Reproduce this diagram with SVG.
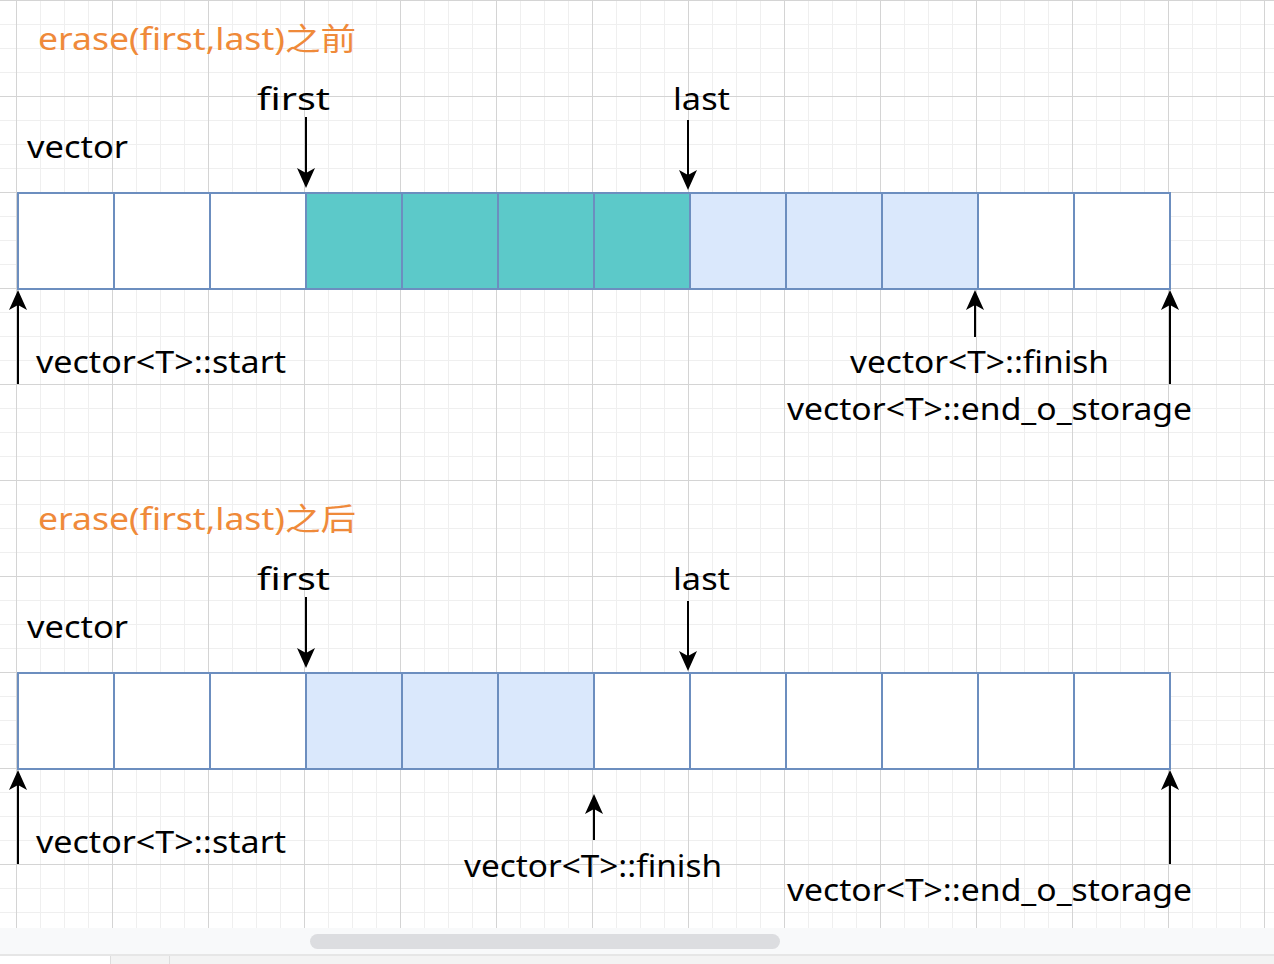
<svg xmlns="http://www.w3.org/2000/svg" width="1274" height="964" viewBox="0 0 1274 964">
<style>
.cell{stroke:#6c8ebf;stroke-width:2}
.w{fill:#ffffff}.t{fill:#5cc9c9}.b{fill:#dae8fc}
.lbl{font-family:"Noto Sans","DejaVu Sans",sans-serif;font-size:31px;fill:#000}
.ttl{font-family:"Noto Sans","Noto Sans CJK SC",sans-serif;font-size:31px;fill:#ef8a3a}
.arr{stroke:#000;stroke-width:2;fill:none;marker-end:url(#ah)}
</style>
<defs>
<pattern id="grid" x="16" y="0" width="96" height="96" patternUnits="userSpaceOnUse">
<path d="M24.5,0V96M48.5,0V96M72.5,0V96M0,24.5H96M0,48.5H96M0,72.5H96" stroke="#efefef" stroke-width="1" fill="none"/>
<path d="M0.5,0V96M0,0.5H96" stroke="#d4d4d4" stroke-width="1" fill="none"/>
</pattern>
<marker id="ah" viewBox="0 0 20 18" refX="15" refY="9" markerWidth="20" markerHeight="18" markerUnits="userSpaceOnUse" orient="auto">
<path d="M0,0 L20,9 L0,18 L5,9 Z" fill="#000"/>
</marker>
</defs>
<rect x="0" y="0" width="1274" height="928" fill="#ffffff"/>
<rect x="0" y="0" width="1274" height="928" fill="url(#grid)"/>
<g id="chrome">
<rect x="0" y="928" width="1274" height="26" fill="#f8f9fa"/>
<rect x="310" y="934" width="470" height="15" rx="7.5" fill="#dcdde0"/>
<rect x="0" y="954" width="1274" height="2" fill="#e6e6e6"/>
<rect x="0" y="956" width="1274" height="8" fill="#f3f3f3"/>
<rect x="0" y="956" width="110" height="8" fill="#ffffff"/>
<path d="M110.5,956V964M169.5,956V964" stroke="#dddddd"/>
</g>
<g id="top-section">
<text id="title-before" class="ttl" x="38" y="50" textLength="318" lengthAdjust="spacingAndGlyphs">erase(first,last)之前</text>
<text id="first-top" class="lbl" x="257" y="110" textLength="73" lengthAdjust="spacingAndGlyphs">first</text>
<text id="last-top" class="lbl" x="673" y="110" textLength="57" lengthAdjust="spacingAndGlyphs">last</text>
<text id="vector-top" class="lbl" x="27" y="158" textLength="101" lengthAdjust="spacingAndGlyphs">vector</text>
<g id="cells-top">
<rect class="cell w" x="18" y="193" width="96" height="96"/>
<rect class="cell w" x="114" y="193" width="96" height="96"/>
<rect class="cell w" x="210" y="193" width="96" height="96"/>
<rect class="cell t" x="306" y="193" width="96" height="96"/>
<rect class="cell t" x="402" y="193" width="96" height="96"/>
<rect class="cell t" x="498" y="193" width="96" height="96"/>
<rect class="cell t" x="594" y="193" width="96" height="96"/>
<rect class="cell b" x="690" y="193" width="96" height="96"/>
<rect class="cell b" x="786" y="193" width="96" height="96"/>
<rect class="cell b" x="882" y="193" width="96" height="96"/>
<rect class="cell w" x="978" y="193" width="96" height="96"/>
<rect class="cell w" x="1074" y="193" width="96" height="96"/>
</g>
<text id="start-top" class="lbl" x="36" y="373" textLength="250" lengthAdjust="spacingAndGlyphs">vector&lt;T&gt;::start</text>
<text id="finish-top" class="lbl" x="850" y="373" textLength="259" lengthAdjust="spacingAndGlyphs">vector&lt;T&gt;::finish</text>
<text id="eos-top" class="lbl" x="787" y="420" textLength="405" lengthAdjust="spacingAndGlyphs">vector&lt;T&gt;::end_o_storage</text>
</g>
<g id="bottom-section">
<text id="title-after" class="ttl" x="38" y="530" textLength="318" lengthAdjust="spacingAndGlyphs">erase(first,last)之后</text>
<text id="first-bottom" class="lbl" x="257" y="590" textLength="73" lengthAdjust="spacingAndGlyphs">first</text>
<text id="last-bottom" class="lbl" x="673" y="590" textLength="57" lengthAdjust="spacingAndGlyphs">last</text>
<text id="vector-bottom" class="lbl" x="27" y="638" textLength="101" lengthAdjust="spacingAndGlyphs">vector</text>
<g id="cells-bottom">
<rect class="cell w" x="18" y="673" width="96" height="96"/>
<rect class="cell w" x="114" y="673" width="96" height="96"/>
<rect class="cell w" x="210" y="673" width="96" height="96"/>
<rect class="cell b" x="306" y="673" width="96" height="96"/>
<rect class="cell b" x="402" y="673" width="96" height="96"/>
<rect class="cell b" x="498" y="673" width="96" height="96"/>
<rect class="cell w" x="594" y="673" width="96" height="96"/>
<rect class="cell w" x="690" y="673" width="96" height="96"/>
<rect class="cell w" x="786" y="673" width="96" height="96"/>
<rect class="cell w" x="882" y="673" width="96" height="96"/>
<rect class="cell w" x="978" y="673" width="96" height="96"/>
<rect class="cell w" x="1074" y="673" width="96" height="96"/>
</g>
<text id="start-bottom" class="lbl" x="36" y="853" textLength="250" lengthAdjust="spacingAndGlyphs">vector&lt;T&gt;::start</text>
<text id="finish-bottom" class="lbl" x="464" y="877" textLength="258" lengthAdjust="spacingAndGlyphs">vector&lt;T&gt;::finish</text>
<text id="eos-bottom" class="lbl" x="787" y="901" textLength="405" lengthAdjust="spacingAndGlyphs">vector&lt;T&gt;::end_o_storage</text>
</g>
<g id="connectors">
<path class="arr" d="M306,117V183"/>
<path class="arr" d="M688,120V185"/>
<path class="arr" d="M18,384V295"/>
<path class="arr" d="M975,337V295"/>
<path class="arr" d="M1170,384V295"/>
<path class="arr" d="M306,597V663"/>
<path class="arr" d="M688,601V666"/>
<path class="arr" d="M18,864V775"/>
<path class="arr" d="M594,840V799"/>
<path class="arr" d="M1170,864V775"/>
</g>
</svg>
